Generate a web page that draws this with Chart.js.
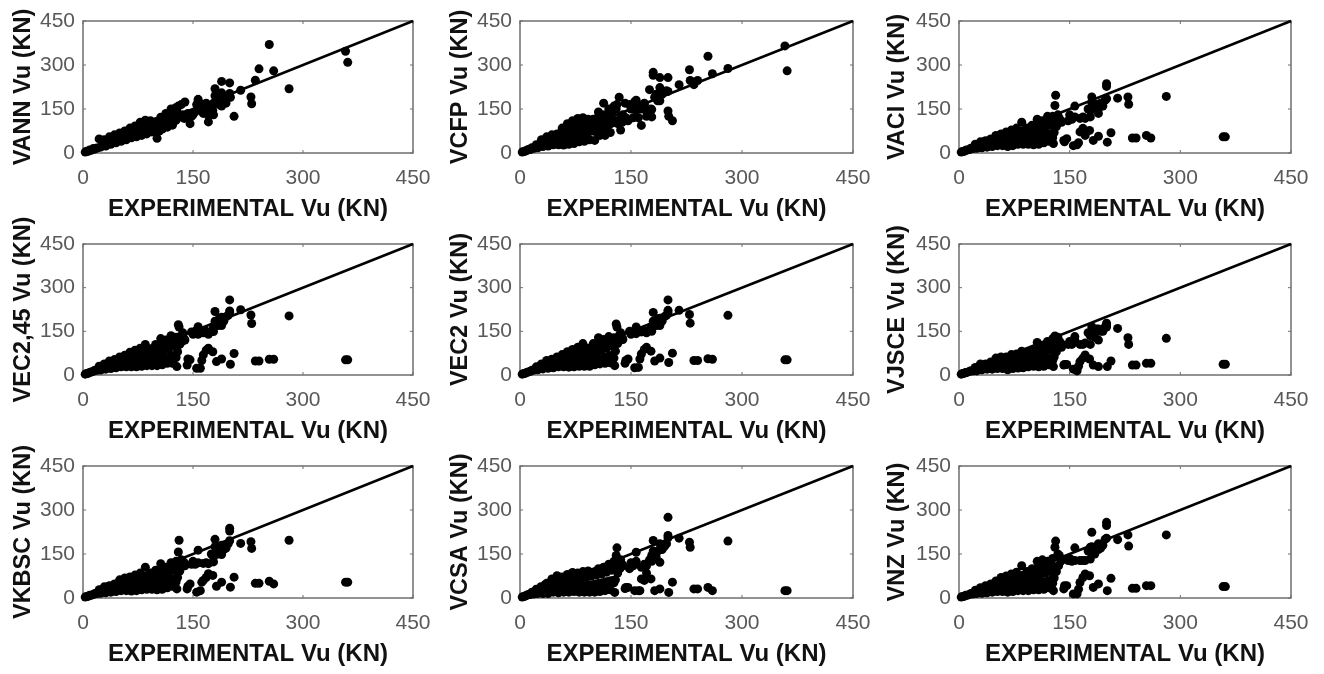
<!DOCTYPE html>
<html>
<head>
<meta charset="utf-8">
<title>Experimental vs predicted Vu</title>
<script src="https://cdn.jsdelivr.net/npm/chart.js@4"></script>
<style>
    html, body { margin: 0; background: #fff; }
    #page { position: relative; width: 1324px; height: 674px; overflow: hidden; filter: blur(0.5px); }
    #page canvas { position: absolute; left: 0; top: 0; }
</style>
</head>
<body>
<div id="page"></div>
<script>
// experimental shear, shared by all nine panels
const experimental = [
    3, 5, 7, 9, 11, 14, 16, 19, 22,
    24, 26, 29, 31, 33, 36, 38, 40, 43,
    45, 47, 50, 52, 54, 57, 59, 61, 64,
    66, 68, 71, 73, 75, 78, 80, 82, 85,
    87, 89, 92, 94, 96, 99, 101, 103, 106,
    108, 110, 113, 115, 117, 120, 122, 124, 127,
    128, 130, 131, 134, 136, 139, 142, 143, 146, 148,
    150, 153, 155, 157, 157, 160, 162, 164, 164, 168,
    168, 171, 171, 175, 177, 178, 178, 180, 180, 182,
    184, 186, 189, 189, 189, 192, 195, 198, 200, 200,
    200, 201, 206, 215, 229, 230, 235, 240, 254, 260, 281, 358, 361,
    30, 35, 41, 46, 51, 56, 60, 65, 70, 74, 79, 84, 88, 93, 98, 102, 107, 112, 116, 121, 125,
    28, 34, 39, 44, 49, 55, 58, 63, 69, 72, 77, 83, 86, 91, 97, 100, 105, 111, 114, 119, 126,
    104, 109, 114, 118, 123, 127, 129, 132, 135, 138
];

const vann = [
    3, 6, 6, 10, 9, 15, 13, 17, 48,
    20, 28, 45, 24, 33, 55, 30, 42, 62,
    35, 48, 68, 40, 55, 75, 45, 62, 85,
    52, 70, 92, 55, 75, 105, 60, 85, 112,
    65, 90, 110, 72, 95, 105, 50, 100, 122,
    82, 105, 135, 88, 115, 150, 95, 125, 155,
    140, 160, 125, 165, 130, 174, 120, 135, 100, 125,
    130, 140, 165, 183, 175, 150, 165, 150, 135, 155,
    170, 128, 106, 160, 145, 170, 130, 219, 195, 200,
    175, 165, 244, 205, 160, 185, 170, 190, 239, 203,
    191, 190, 125, 214, 191, 168, 248, 287, 370, 280, 219, 347, 309,
    27, 31, 36, 41, 44, 50, 52, 58, 61, 65, 70, 74, 78, 82, 85, 90, 94, 99, 102, 107, 110,
    30, 36, 42, 47, 52, 59, 62, 68, 74, 77, 82, 89, 92, 97, 104, 107, 112, 119, 122, 127, 135,
    75, 85, 95, 100, 110, 112, 120, 125, 128, 118
];
const vcfp = [
    3, 5, 7, 8, 12, 12, 18, 16, 28,
    18, 30, 45, 22, 38, 55, 24, 42, 62,
    28, 48, 65, 28, 58, 85, 27, 70, 100,
    30, 78, 110, 32, 80, 118, 38, 85, 120,
    40, 90, 115, 45, 95, 115, 43, 105, 140,
    60, 120, 170, 60, 125, 150, 70, 135, 160,
    110, 150, 165, 190, 78, 130, 170, 120, 110, 165,
    150, 120, 175, 180, 145, 120, 160, 94, 150, 165,
    170, 145, 125, 216, 150, 123, 148, 275, 265, 190,
    200, 178, 257, 223, 178, 200, 210, 212, 257, 143,
    210, 125, 110, 233, 284, 247, 233, 247, 330, 270, 288, 365, 280,
    28, 35, 35, 42, 40, 45, 45, 52, 55, 58, 60, 65, 68, 72, 75, 80, 85, 95, 95, 105, 110,
    35, 40, 48, 50, 55, 68, 75, 85, 95, 95, 100, 105, 100, 100, 105, 110, 120, 130, 125, 135, 150,
    70, 80, 85, 90, 100, 110, 105, 100, 115, 105
];
const vaci = [
    3, 5, 6, 9, 10, 12, 16, 15, 30,
    16, 22, 38, 18, 28, 42, 20, 32, 48,
    22, 36, 60, 25, 40, 65, 25, 45, 72,
    22, 50, 78, 25, 52, 85, 30, 60, 105,
    30, 65, 85, 30, 70, 95, 28, 70, 115,
    30, 80, 110, 35, 85, 125, 40, 95, 125,
    32, 162, 197, 130, 118, 105, 43, 38, 49, 110,
    130, 115, 25, 123, 160, 28, 35, 72, 118, 84,
    123, 60, 118, 150, 77, 123, 145, 191, 172, 43,
    155, 165, 57, 151, 135, 170, 160, 180, 236, 227,
    185, 37, 69, 187, 191, 166, 51, 51, 60, 51, 193, 55, 55,
    24, 28, 30, 30, 35, 35, 38, 38, 38, 40, 42, 44, 48, 48, 50, 50, 52, 55, 58, 62, 65,
    32, 38, 40, 46, 48, 52, 55, 60, 65, 62, 68, 72, 72, 78, 80, 82, 90, 95, 92, 100, 105,
    38, 42, 50, 42, 48, 52, 70, 90, 105, 110
];
const vec245 = [
    3, 5, 6, 9, 10, 13, 16, 16, 30,
    17, 22, 38, 20, 30, 48, 22, 34, 53,
    25, 38, 62, 28, 42, 68, 28, 48, 78,
    28, 55, 85, 28, 58, 92, 30, 65, 105,
    32, 68, 90, 32, 75, 105, 32, 72, 125,
    35, 85, 120, 40, 90, 135, 40, 100, 130,
    29, 173, 165, 135, 145, 120, 34, 55, 52, 148,
    140, 150, 23, 166, 140, 23, 50, 69, 145, 85,
    150, 92, 140, 150, 80, 149, 165, 218, 185, 46,
    170, 195, 55, 198, 170, 185, 200, 205, 258, 220,
    215, 37, 74, 224, 206, 177, 48, 48, 54, 54, 203, 52, 52,
    24, 28, 30, 34, 36, 38, 38, 42, 42, 44, 46, 46, 50, 50, 52, 52, 55, 58, 60, 65, 68,
    34, 38, 44, 48, 54, 58, 60, 66, 74, 72, 78, 82, 80, 84, 92, 95, 102, 110, 105, 112, 118,
    40, 46, 48, 45, 52, 60, 80, 105, 115, 125
];
const vec2 = [
    3, 5, 6, 9, 10, 13, 16, 17, 28,
    18, 23, 38, 21, 31, 50, 23, 35, 54,
    25, 40, 62, 28, 44, 70, 28, 50, 80,
    27, 56, 88, 28, 60, 95, 30, 66, 108,
    30, 70, 92, 30, 76, 108, 35, 74, 128,
    38, 86, 122, 40, 92, 132, 42, 100, 128,
    32, 175, 165, 135, 145, 122, 40, 50, 55, 150,
    140, 148, 25, 165, 142, 26, 55, 72, 148, 88,
    150, 95, 145, 155, 82, 150, 165, 215, 185, 48,
    170, 192, 58, 195, 170, 185, 200, 205, 258, 222,
    215, 43, 75, 222, 208, 178, 50, 50, 56, 54, 205, 52, 52,
    25, 28, 31, 34, 37, 38, 40, 42, 44, 44, 47, 48, 50, 52, 52, 54, 56, 58, 62, 66, 68,
    34, 40, 44, 50, 54, 60, 62, 68, 76, 74, 80, 84, 82, 86, 94, 96, 104, 110, 108, 114, 116,
    42, 44, 50, 46, 50, 58, 82, 108, 118, 128
];
const vjsce = [
    3, 5, 6, 9, 9, 12, 15, 14, 26,
    14, 20, 38, 18, 28, 38, 20, 30, 45,
    20, 32, 58, 22, 36, 62, 22, 40, 62,
    18, 42, 70, 22, 45, 72, 24, 50, 82,
    25, 55, 78, 28, 60, 85, 30, 60, 112,
    28, 68, 100, 30, 72, 115, 35, 85, 125,
    29, 134, 125, 130, 115, 95, 34, 36, 36, 105,
    115, 105, 20, 132, 120, 14, 30, 46, 105, 58,
    105, 69, 110, 145, 55, 105, 135, 166, 150, 34,
    130, 158, 29, 158, 120, 150, 150, 165, 178, 170,
    165, 29, 48, 160, 128, 105, 34, 34, 40, 40, 126, 37, 37,
    22, 24, 26, 28, 28, 30, 32, 32, 34, 34, 36, 36, 38, 40, 42, 42, 45, 46, 48, 50, 55,
    30, 32, 36, 40, 46, 50, 50, 55, 60, 58, 62, 68, 64, 68, 72, 78, 85, 90, 88, 95, 100,
    36, 40, 42, 40, 44, 50, 62, 80, 98, 110
];
const vkbsc = [
    3, 5, 6, 9, 9, 12, 15, 15, 28,
    16, 22, 38, 18, 28, 42, 20, 32, 48,
    22, 36, 62, 25, 40, 68, 25, 45, 72,
    24, 50, 78, 25, 52, 85, 28, 60, 105,
    30, 65, 85, 30, 70, 95, 28, 72, 117,
    30, 80, 105, 35, 85, 120, 40, 95, 125,
    31, 157, 197, 130, 125, 110, 31, 40, 48, 115,
    125, 115, 20, 120, 163, 25, 54, 60, 118, 70,
    120, 83, 117, 150, 77, 123, 140, 200, 175, 40,
    150, 175, 54, 148, 180, 165, 170, 185, 238, 228,
    195, 37, 71, 186, 192, 169, 50, 50, 57, 48, 197, 54, 54,
    24, 27, 30, 30, 34, 34, 36, 38, 38, 40, 42, 44, 46, 48, 50, 50, 52, 55, 58, 62, 66,
    32, 38, 40, 46, 50, 54, 58, 62, 66, 62, 68, 74, 74, 78, 80, 84, 92, 95, 92, 100, 106,
    38, 42, 50, 42, 48, 55, 70, 92, 108, 120
];
const vcsa = [
    3, 5, 7, 9, 12, 12, 20, 14, 30,
    15, 25, 32, 15, 35, 50, 15, 40, 65,
    20, 45, 76, 18, 50, 72, 20, 55, 80,
    20, 60, 87, 22, 60, 85, 20, 65, 90,
    20, 70, 92, 20, 75, 88, 20, 78, 100,
    22, 82, 105, 25, 88, 115, 28, 95, 125,
    19, 145, 171, 125, 130, 110, 32, 36, 36, 100,
    120, 110, 25, 156, 125, 25, 25, 65, 105, 60,
    115, 85, 110, 130, 65, 145, 125, 196, 160, 25,
    140, 160, 31, 185, 122, 165, 175, 185, 275, 213,
    205, 19, 54, 204, 190, 173, 31, 31, 36, 25, 194, 25, 25,
    22, 24, 28, 30, 32, 35, 35, 38, 40, 38, 40, 42, 42, 45, 45, 48, 50, 52, 55, 58, 60,
    38, 45, 50, 55, 62, 62, 65, 70, 72, 72, 75, 72, 72, 78, 78, 85, 85, 92, 95, 100, 105,
    35, 40, 45, 40, 48, 52, 62, 85, 100, 115
];
const vnz = [
    3, 5, 6, 9, 9, 12, 15, 14, 26,
    15, 22, 35, 16, 26, 42, 18, 30, 48,
    20, 34, 58, 22, 38, 70, 22, 42, 75,
    20, 48, 82, 22, 50, 88, 25, 55, 110,
    25, 62, 90, 25, 68, 100, 28, 70, 125,
    28, 78, 130, 30, 85, 125, 35, 90, 135,
    25, 173, 194, 150, 145, 130, 31, 42, 42, 128,
    135, 125, 14, 128, 171, 14, 30, 53, 128, 70,
    128, 82, 128, 160, 76, 133, 173, 224, 175, 36,
    150, 170, 48, 185, 165, 170, 180, 200, 258, 247,
    204, 25, 67, 199, 215, 177, 33, 33, 42, 42, 215, 39, 39,
    22, 26, 28, 28, 32, 32, 34, 36, 36, 38, 40, 42, 42, 45, 48, 46, 50, 52, 55, 58, 62,
    30, 36, 38, 44, 50, 56, 58, 64, 70, 70, 76, 76, 76, 80, 84, 92, 100, 110, 105, 108, 112,
    34, 38, 44, 40, 46, 50, 68, 90, 110, 125
];

// panels read left to right, top to bottom
const panel_names = ["VANN", "VCFP", "VACI", "VEC2,45", "VEC2", "VJSCE", "VKBSC", "VCSA", "VNZ"];
const panel_values = [vann, vcfp, vaci, vec245, vec2, vjsce, vkbsc, vcsa, vnz];

const axis_ticks = [0, 150, 300, 450];
const parity_line = [0, 450];
const x_title = "EXPERIMENTAL Vu (KN)";

// where each plot box sits on the page
const col_left = [83, 520, 959];
const col_right = [413, 853, 1291];
const col_title = [24, 461, 898];
const row_top = [21, 244, 466];
const row_bottom = [153, 375, 598];

const PAGE_W = 1324, PAGE_H = 674;
const FONT_FAMILY = "'Liberation Sans', Arial, sans-serif";
const X_TITLE_FONT = { family: FONT_FAMILY, size: 24, weight: "bold", lineHeight: 1 };
const Y_TITLE_FONT = { family: FONT_FAMILY, size: 23.5, weight: "bold", lineHeight: 1 };
const TICK_FONT = { family: FONT_FAMILY, size: 21 };
const X_AXIS_HEIGHT = 68;
const AXIS_GREY = "#6f6f6f";

// matlab style box with little ticks pointing inward on all four sides
const box_plugin = {
    id: "box_plugin",
    beforeDatasetsDraw(chart) {
        const { ctx, chartArea: a, scales } = chart;
        ctx.save();
        ctx.strokeStyle = AXIS_GREY;
        ctx.lineWidth = 1.5;
        ctx.strokeRect(a.left, a.top, a.right - a.left, a.bottom - a.top);
        ctx.lineWidth = 1;
        ctx.beginPath();
        axis_ticks.forEach(t => {
            const px = scales.x.getPixelForValue(t);
            const py = scales.y.getPixelForValue(t);
            ctx.moveTo(px, a.bottom); ctx.lineTo(px, a.bottom - 3);
            ctx.moveTo(px, a.top); ctx.lineTo(px, a.top + 3);
            ctx.moveTo(a.left, py); ctx.lineTo(a.left + 3, py);
            ctx.moveTo(a.right, py); ctx.lineTo(a.right - 3, py);
        });
        ctx.stroke();
        ctx.restore();
    }
};

function make_panel(index) {
    const col = index % 3;
    const row = Math.floor(index / 3);
    const canvas = document.createElement("canvas");
    canvas.width = PAGE_W;
    canvas.height = PAGE_H;
    document.getElementById("page").appendChild(canvas);

    const left_edge = col_title[col] - Y_TITLE_FONT.size / 2;
    const points = experimental.map((x, i) => ({ x, y: panel_values[index][i] }));

    return new Chart(canvas, {
        type: "scatter",
        data: {
            datasets: [{
                data: parity_line.map(v => ({ x: v, y: v })),
                showLine: true,
                borderColor: "#000",
                borderWidth: 2.5,
                pointRadius: 0,
                clip: false
            }, {
                data: points,
                backgroundColor: "#000",
                borderWidth: 0,
                pointRadius: 4.5,
                clip: false
            }]
        },
        options: {
            responsive: false,
            animation: false,
            events: [],
            layout: {
                padding: {
                    left: left_edge,
                    right: PAGE_W - col_right[col],
                    top: row_top[row],
                    bottom: PAGE_H - row_bottom[row] - X_AXIS_HEIGHT
                }
            },
            plugins: { legend: { display: false }, tooltip: { enabled: false } },
            scales: {
                x: {
                    type: "linear",
                    min: 0,
                    max: 450,
                    afterFit(scale) { scale.height = X_AXIS_HEIGHT; },
                    afterBuildTicks(scale) { scale.ticks = axis_ticks.map(value => ({ value })); },
                    grid: { display: false, drawTicks: false },
                    border: { display: false },
                    ticks: { color: "#595959", font: TICK_FONT, padding: 13, maxRotation: 0, autoSkip: false },
                    title: { display: true, text: x_title, color: "#111", font: X_TITLE_FONT, padding: 0 }
                },
                y: {
                    type: "linear",
                    min: 0,
                    max: 450,
                    afterFit(scale) { scale.width = col_left[col] - left_edge; },
                    afterBuildTicks(scale) { scale.ticks = axis_ticks.map(value => ({ value })); },
                    grid: { display: false, drawTicks: false },
                    border: { display: false },
                    ticks: { color: "#595959", font: TICK_FONT, padding: 8, autoSkip: false },
                    title: { display: true, text: panel_names[index] + " Vu (KN)", color: "#111", font: Y_TITLE_FONT, padding: 0 }
                }
            }
        },
        plugins: [box_plugin]
    });
}

panel_names.forEach((name, i) => make_panel(i));
</script>
</body>
</html>
